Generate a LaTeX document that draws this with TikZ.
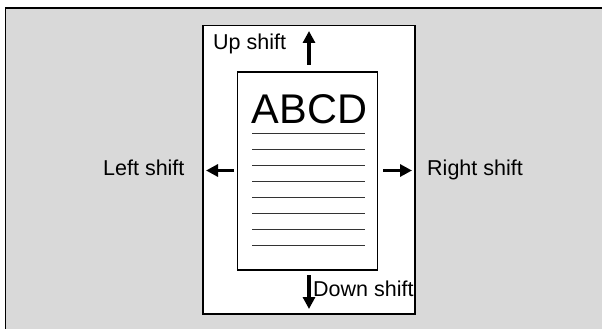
\documentclass[tikz,border=0pt]{standalone}
\usepackage{fontspec}
\setmainfont{Liberation Sans}
\usetikzlibrary{arrows.meta,positioning}
\definecolor{panel}{HTML}{D9D9D9}

\begin{document}
\begin{tikzpicture}[x=1pt,y=-1pt,
 lbl/.style={inner sep=0pt,anchor=base west,font=\fontsize{21.5}{24}\selectfont},
 sheet/.style={draw=black,line width=1.5pt,fill=white,inner sep=0pt},
 rule/.style={line width=1pt,draw=black!80},
 mv/.style={-{Triangle[length=12pt,width=12pt]},line width=3.5pt}]
 \useasboundingbox (0,0) rectangle (602,329);
 % background panel, open to the right and below
 \fill[panel] (5.5,8) rectangle (602,329);
 \draw[line width=1.5pt] (5.5,329)--(5.5,8)--(602,8);
 \node[sheet,minimum width=212pt,minimum height=288.5pt] (pg) at (309,169.75) {};
 \node[sheet,minimum width=140pt,minimum height=198pt] (doc) at (307.5,171) {};
 \node[inner sep=0pt,anchor=base,font=\fontsize{41.5}{44}\selectfont] (ttl) at (309.5,123) {ABCD};
 \foreach \k in {0,...,7}
  \draw[rule] (252.3,133.5+16*\k) -- (365,133.5+16*\k);
 % shift labels
 \node[lbl] (up) at (213,50) {Up shift};
 \node[lbl] (lt) at (103,175) {Left shift};
 \node[lbl] (rt) at (427,175) {Right shift};
 \node[lbl] (dn) at (313,296) {Down shift};
 % arrow ends
 \coordinate (u0) at (309,65); \coordinate (u1) at (309,31);
 \coordinate (d0) at (309,275); \coordinate (d1) at (309,309);
 \coordinate (l0) at (234,170.5); \coordinate (l1) at (206,170.5);
 \coordinate (r0) at (383,170.5); \coordinate (r1) at (412,170.5);
 \draw[mv] (u0)--(u1); \draw[mv] (d0)--(d1);
 \draw[mv] (l0)--(l1); \draw[mv] (r0)--(r1);
\end{tikzpicture}
\end{document}
